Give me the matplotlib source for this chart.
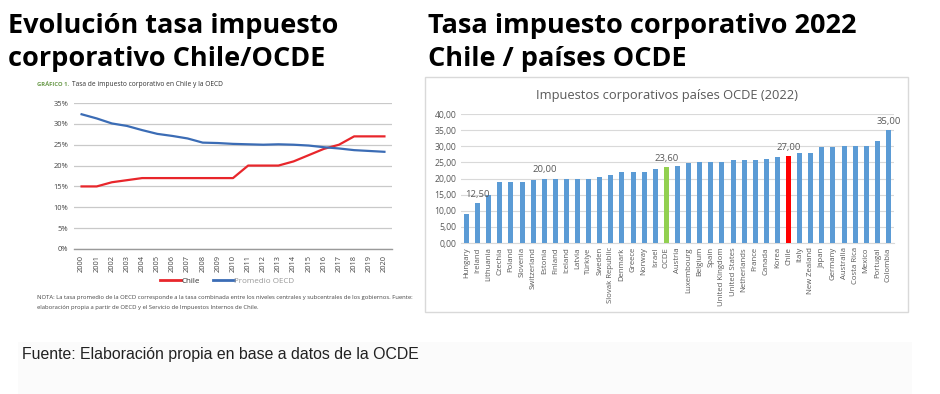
import matplotlib
matplotlib.use("Agg")
import matplotlib.pyplot as plt
from matplotlib.patches import Rectangle

# ---------------- data ----------------
years = [str(y) for y in range(2000, 2021)]
chile = [15, 15, 16, 16.5, 17, 17, 17, 17, 17, 17, 17, 20, 20, 20, 21, 22.5, 24, 25, 27, 27, 27]
oecd = [32.3, 31.3, 30.1, 29.5, 28.5, 27.6, 27.1, 26.5, 25.5, 25.4, 25.2, 25.1, 25.0, 25.1,
        25.0, 24.8, 24.4, 24.1, 23.7, 23.5, 23.3]
left_yticks = [0, 5, 10, 15, 20, 25, 30, 35]

countries = ["Hungary", "Ireland", "Lithuania", "Czechia", "Poland", "Slovenia", "Switzerland",
             "Estonia", "Finland", "Iceland", "Latvia", "Türkiye", "Sweden", "Slovak Republic",
             "Denmark", "Greece", "Norway", "Israel", "OCDE", "Austria", "Luxembourg", "Belgium",
             "Spain", "United Kingdom", "United States", "Netherlands", "France", "Canada",
             "Korea", "Chile", "Italy", "New Zealand", "Japan", "Germany", "Australia",
             "Costa Rica", "Mexico", "Portugal", "Colombia"]
rates = [9.0, 12.5, 15.0, 19.0, 19.0, 19.0, 19.6, 20.0, 20.0, 20.0, 20.0, 20.0, 20.6, 21.0,
         22.0, 22.0, 22.0, 23.0, 23.6, 24.0, 24.9, 25.0, 25.0, 25.0, 25.8, 25.8, 25.8, 26.2,
         26.6, 27.0, 27.8, 28.0, 29.8, 29.9, 30.0, 30.0, 30.0, 31.5, 35.0]
labelled = ["Ireland", "Estonia", "OCDE", "Chile", "Colombia"]
right_yticks = [0, 5, 10, 15, 20, 25, 30, 35, 40]

W, H = 940, 394
fig = plt.figure(figsize=(W / 100, H / 100), dpi=100)
fig.patch.set_facecolor("white")


def fx(px):
    return px / W


def fy(py):
    return 1 - py / H


def axes_px(x0, y0, x1, y1):
    return fig.add_axes([fx(x0), fy(y1), fx(x1 - x0), (y1 - y0) / H])


# faint background band at the bottom
fig.patches.append(Rectangle((fx(18), 0), fx(912 - 18), (H - 342) / H, transform=fig.transFigure,
                             facecolor="#fbfbfb", edgecolor="none", zorder=-2))

# ---------------- titles ----------------
title_kw = dict(fontsize=19.5, fontweight="bold", family=["Open Sans", "DejaVu Sans"],
                color="black", va="baseline", ha="left")
fig.text(fx(8), fy(33), "Evolución tasa impuesto", **title_kw)
fig.text(fx(8), fy(66), "corporativo Chile/OCDE", **title_kw)
fig.text(fx(428), fy(33), "Tasa impuesto corporativo 2022", **title_kw)
fig.text(fx(428), fy(66), "Chile / países OCDE", **title_kw)

# ---------------- left chart ----------------
small_font = ["Open Sans", "DejaVu Sans"]
fig.text(fx(37), fy(85), "GRÁFICO 1.", fontsize=4.2, fontweight="bold", color="#6a9a4a",
         family=small_font, va="center", ha="left")
fig.text(fx(72), fy(85), "Tasa de impuesto corporativo en Chile y la OECD", fontsize=4.8,
         color="#333333", family=small_font, va="center", ha="left")

axL = axes_px(74, 103, 392, 249)
x = list(range(len(years)))
axL.plot(x, chile, color="#e8262b", lw=1.6, label="Chile", zorder=3)
axL.plot(x, oecd, color="#3b6cb5", lw=1.6, label="Promedio OECD", zorder=3)
axL.set_xlim(-0.5, len(years) - 0.5)
axL.set_ylim(0, 35)
axL.set_yticks(left_yticks)
axL.set_yticklabels([f"{v}%" for v in left_yticks])
axL.set_xticks(x)
axL.set_xticklabels(years, rotation=90)
axL.grid(axis="y", color="#c9c9c9", lw=0.9)
axL.set_axisbelow(True)
for s in ["top", "right", "left"]:
    axL.spines[s].set_visible(False)
axL.spines["bottom"].set_color("#9a9a9a")
axL.spines["bottom"].set_linewidth(1.0)
axL.tick_params(axis="both", length=0, labelsize=5.4, labelcolor="#444444", pad=4)
for t in axL.get_yticklabels() + axL.get_xticklabels():
    t.set_family(small_font)
leg = axL.legend(loc="center", bbox_to_anchor=(fx(227), fy(281)), bbox_transform=fig.transFigure,
                 ncol=2, frameon=False, handlelength=2.6, columnspacing=1.6,
                 handletextpad=0.1, prop={"family": small_font, "size": 5.8})
for t, c in zip(leg.get_texts(), ["#333333", "#999999"]):
    t.set_color(c)
for ln in leg.get_lines():
    ln.set_linewidth(2)

note_kw = dict(fontsize=4.25, color="#444444", family=small_font, va="center", ha="left")
fig.text(fx(37), fy(298), "NOTA: La tasa promedio de la OECD corresponde a la tasa combinada entre los niveles "
         "centrales y subcentrales de los gobiernos. Fuente:", **note_kw)
fig.text(fx(37), fy(308), "elaboración propia a partir de OECD y el Servicio de Impuestos Internos de Chile.",
         **note_kw)

# ---------------- right chart ----------------
fig.patches.append(Rectangle((fx(425), fy(312)), fx(908 - 425), (312 - 77) / H,
                             transform=fig.transFigure, facecolor="white",
                             edgecolor="#d9d9d9", lw=1.0, zorder=-1))
fig.text(fx(667), fy(96), "Impuestos corporativos países OCDE (2022)", fontsize=9.3,
         color="#595959", family=small_font, ha="center", va="center")

axR = axes_px(461, 114, 894, 243)
axR.patch.set_alpha(0)
colors = []
for c in countries:
    if c == "OCDE":
        colors.append("#92d050")
    elif c == "Chile":
        colors.append("#ff0000")
    else:
        colors.append("#5b9bd5")
xr = list(range(len(countries)))
axR.bar(xr, rates, width=0.45, color=colors, zorder=3)
for i, (c, v) in enumerate(zip(countries, rates)):
    if c in labelled:
        axR.annotate(f"{v:.2f}".replace(".", ","), (i, v), xytext=(0, 3), textcoords="offset points",
                     ha="center", va="bottom", fontsize=6.8, color="#595959", family=small_font)
axR.set_xlim(-0.5, len(countries) - 0.5)
axR.set_ylim(0, 40)
axR.set_yticks(right_yticks)
axR.set_yticklabels([f"{v:.2f}".replace(".", ",") for v in right_yticks])
axR.set_xticks(xr)
axR.set_xticklabels(countries, rotation=90)
axR.grid(axis="y", color="#d9d9d9", lw=0.8)
axR.set_axisbelow(True)
for s in ["top", "right", "left"]:
    axR.spines[s].set_visible(False)
axR.spines["bottom"].set_color("#d9d9d9")
axR.tick_params(axis="both", length=0, labelsize=6.2, labelcolor="#595959")
axR.tick_params(axis="y", pad=3.5)
axR.tick_params(axis="x", pad=3, labelsize=5.6)
for t in axR.get_yticklabels() + axR.get_xticklabels():
    t.set_family(small_font)

# ---------------- footer ----------------
fig.text(fx(22), fy(355), "Fuente: Elaboración propia en base a datos de la OCDE", fontsize=11.4,
         color="#222222", family=["Liberation Sans Narrow", "Liberation Sans", "DejaVu Sans"],
         ha="left", va="center")

fig.savefig("out.png", dpi=100, facecolor="white")
